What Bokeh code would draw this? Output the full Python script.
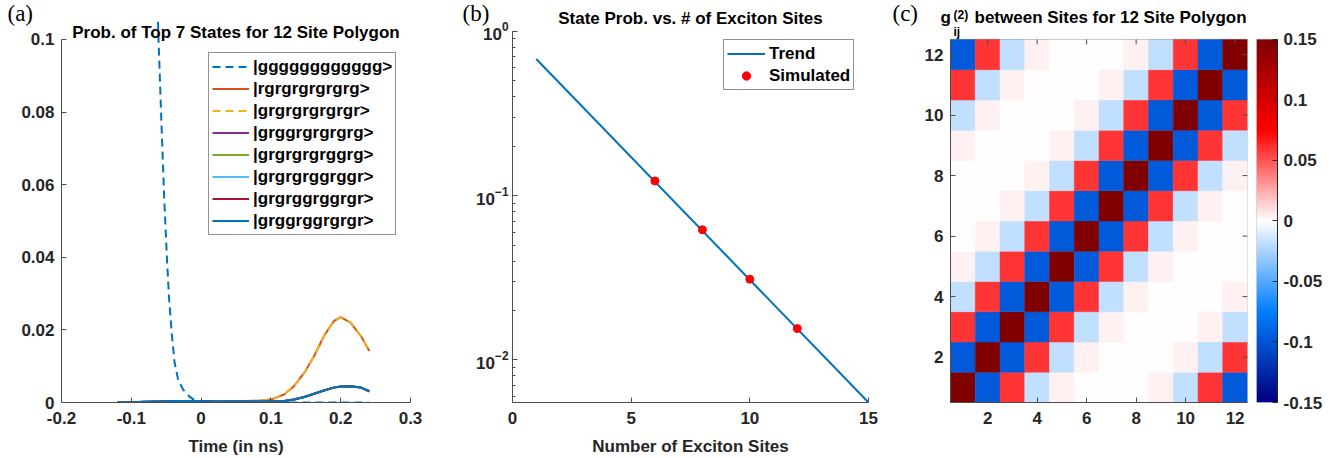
import numpy as np
from bokeh.plotting import figure
from bokeh.layouts import row
from bokeh.models import (Range1d, Legend, LegendItem, Label, LinearColorMapper, Title,
                          FixedTicker, NumeralTickFormatter, ColumnDataSource, BoxAnnotation)
from bokeh.embed import file_html
from bokeh.resources import INLINE

# ---------------- data ----------------
# (a) state probabilities vs time
t_ground = [-0.12, -0.1, -0.085, -0.075, -0.068, -0.061, -0.057, -0.053, -0.049, -0.046,
            -0.042, -0.038, -0.033, -0.026, -0.017, -0.007, 0.0, 0.05, 0.1, 0.15, 0.2, 0.24]
p_ground = [1.0, 0.62, 0.36, 0.22, 0.15, 0.1, 0.078, 0.057, 0.040, 0.029,
            0.019, 0.011, 0.0064, 0.0036, 0.0017, 0.0003, 0.0, 0.0, 0.0, 0.0, 0.0, 0.0]

t_grid = [-0.12, -0.1, -0.08, -0.06, -0.04, -0.02, 0.0, 0.02, 0.04, 0.06, 0.08, 0.1,
          0.119, 0.133, 0.148, 0.162, 0.176, 0.19, 0.2, 0.214, 0.229, 0.241]
p_rgrg = [0.0, 0.0, 0.0, 0.0001, 0.0002, 0.0003, 0.0004, 0.0004, 0.0004, 0.0004, 0.0005, 0.0008,
          0.0022, 0.0045, 0.0082, 0.0128, 0.0183, 0.0224, 0.0235, 0.022, 0.0183, 0.0142]
p_grgr = [0.0, 0.0, 0.0, 0.0001, 0.0002, 0.0003, 0.0004, 0.0004, 0.0004, 0.0004, 0.0005, 0.0008,
          0.0022, 0.0045, 0.0082, 0.0128, 0.0183, 0.0224, 0.0235, 0.022, 0.0183, 0.0142]
p_two_gap = [0.0, 0.0001, 0.0002, 0.0003, 0.0004, 0.0004, 0.0004, 0.0003, 0.0003, 0.0003, 0.0003, 0.0003,
             0.0004, 0.0008, 0.0015, 0.0024, 0.0033, 0.0041, 0.0044, 0.0045, 0.0041, 0.0031]

state_labels = ["|gggggggggggg>", "|rgrgrgrgrgrg>", "|grgrgrgrgrgr>", "|grggrgrgrgrg>",
                "|grgrgrgrggrg>", "|grgrgrggrggr>", "|grgrggrggrgr>", "|grggrggrgrgr>"]

# (b) state probability vs number of exciton sites
sites_sim = [6, 8, 10, 12]
prob_sim = [0.123, 0.062, 0.031, 0.0155]
trend_x = [1, 15]
trend_y = [0.68, 0.0055]

# (c) g2 matrix between sites (row i = site i, column j = site j)
site_idx = list(range(1, 13))
g2 = [
    [0.15, -0.097, 0.059, -0.018, 0.0045, 0.0005, 0.0, 0.0005, 0.0045, -0.018, 0.059, -0.097],
    [-0.097, 0.15, -0.097, 0.059, -0.018, 0.0045, 0.0005, 0.0, 0.0005, 0.0045, -0.018, 0.059],
    [0.059, -0.097, 0.15, -0.097, 0.059, -0.018, 0.0045, 0.0005, 0.0, 0.0005, 0.0045, -0.018],
    [-0.018, 0.059, -0.097, 0.15, -0.097, 0.059, -0.018, 0.0045, 0.0005, 0.0, 0.0005, 0.0045],
    [0.0045, -0.018, 0.059, -0.097, 0.15, -0.097, 0.059, -0.018, 0.0045, 0.0005, 0.0, 0.0005],
    [0.0005, 0.0045, -0.018, 0.059, -0.097, 0.15, -0.097, 0.059, -0.018, 0.0045, 0.0005, 0.0],
    [0.0, 0.0005, 0.0045, -0.018, 0.059, -0.097, 0.15, -0.097, 0.059, -0.018, 0.0045, 0.0005],
    [0.0005, 0.0, 0.0005, 0.0045, -0.018, 0.059, -0.097, 0.15, -0.097, 0.059, -0.018, 0.0045],
    [0.0045, 0.0005, 0.0, 0.0005, 0.0045, -0.018, 0.059, -0.097, 0.15, -0.097, 0.059, -0.018],
    [-0.018, 0.0045, 0.0005, 0.0, 0.0005, 0.0045, -0.018, 0.059, -0.097, 0.15, -0.097, 0.059],
    [0.059, -0.018, 0.0045, 0.0005, 0.0, 0.0005, 0.0045, -0.018, 0.059, -0.097, 0.15, -0.097],
    [-0.097, 0.059, -0.018, 0.0045, 0.0005, 0.0, 0.0005, 0.0045, -0.018, 0.059, -0.097, 0.15],
]
site_ticks = [2, 4, 6, 8, 10, 12]
cbar_ticks = [-0.15, -0.1, -0.05, 0, 0.05, 0.1, 0.15]

# ---------------- style / layout constants ----------------
FONT = "Liberation Sans"
SERIF = "Liberation Serif"
AX = "#4d4d4d"
TXT = "#262626"
FS = "17px"
LETTER_FS = "23px"
COLORS = ["#0072BD", "#D95319", "#EDB120", "#7E2F8E", "#77AC30", "#4DBEEE", "#A2142F", "#0072BD"]
FRAME_TOP = 18      # common frame top of all plots in the row (pixels)
FRAME_BOT = 403     # frame bottom (pixels)
BORDER_BOT = 458 - FRAME_BOT
TICK_PX = 5


def extend_top(lo, hi, data_top_px):
    """linear range end so that `hi` lands at pixel row data_top_px"""
    return lo + (hi - lo) * (FRAME_BOT - FRAME_TOP) / (FRAME_BOT - data_top_px)


def style_axes(p, minor=False):
    for ax in p.axis:
        ax.axis_line_color = AX
        ax.major_tick_line_color = AX
        ax.minor_tick_line_color = AX if minor else None
        ax.major_tick_in = TICK_PX
        ax.major_tick_out = 0
        ax.minor_tick_in = 3
        ax.minor_tick_out = 0
        ax.major_label_text_font = FONT
        ax.major_label_text_font_size = FS
        ax.major_label_text_font_style = "bold"
        ax.major_label_text_color = TXT
        ax.axis_label_text_font = FONT
        ax.axis_label_text_font_size = FS
        ax.axis_label_text_font_style = "bold"
        ax.axis_label_text_color = TXT
    p.xgrid.visible = False
    p.ygrid.visible = False


def add_title(p, text, standoff, align="center", offset=0, font=FONT, size=FS, style="bold"):
    p.add_layout(Title(text=text, align=align, offset=offset, standoff=standoff,
                       text_font=font, text_font_size=size, text_font_style=style,
                       text_color="#000000"), "above")


def legend_kw():
    return dict(padding=3, spacing=1, label_standoff=4, glyph_height=21, label_height=21,
                label_text_font=FONT, label_text_font_size=FS, label_text_font_style="bold",
                label_text_color="#000000", border_line_color=TXT, border_line_width=1,
                background_fill_alpha=1.0)


# ---------------- panel (a) ----------------
pa = figure(width=440, height=458, output_backend="svg", toolbar_location=None, title=None,
            x_range=Range1d(-0.2, 0.3), y_range=Range1d(0, extend_top(0, 0.1, 39)),
            min_border_left=61, min_border_right=30, min_border_top=FRAME_TOP,
            min_border_bottom=BORDER_BOT)
pa.outline_line_color = None
series = [(t_ground, p_ground, "dashed"), (t_grid, p_rgrg, "solid"), (t_grid, p_grgr, "dashed"),
          (t_grid, p_two_gap, "solid"), (t_grid, p_two_gap, "solid"), (t_grid, p_two_gap, "solid"),
          (t_grid, p_two_gap, "solid"), (t_grid, p_two_gap, "solid")]
items = []
for (tx, py, dash), col, lab in zip(series, COLORS, state_labels):
    r = pa.line(tx, py, line_color=col, line_width=2,
                line_dash="8 5" if dash == "dashed" else "solid")
    items.append(LegendItem(label=lab, renderers=[r]))
leg_a = Legend(items=items, location=(147, 167), glyph_width=37, **legend_kw())
pa.add_layout(leg_a)
pa.xaxis.axis_label = "Time (in ns)"
pa.xaxis.ticker = FixedTicker(ticks=[-0.2, -0.1, 0, 0.1, 0.2, 0.3])
pa.yaxis.ticker = FixedTicker(ticks=[0, 0.02, 0.04, 0.06, 0.08, 0.1])
pa.yaxis.bounds = (0, 0.1)
pa.xaxis.formatter = NumeralTickFormatter(format="0.[0]")
pa.yaxis.formatter = NumeralTickFormatter(format="0.[00]")
style_axes(pa)
pa.xaxis.major_label_standoff = 9
pa.yaxis.major_label_standoff = 7
pa.xaxis.axis_label_standoff = 10
pa.add_layout(Label(x=0.05, y=0.1, y_offset=6.7, text="Prob. of Top 7 States for 12 Site Polygon",
                    text_font=FONT, text_font_size=FS, text_font_style="bold", text_color="#000000",
                    text_align="center", text_baseline="alphabetic"))
add_title(pa, "(a)", -15, align="left", offset=-54, font=SERIF, size=LETTER_FS, style="normal")

# ---------------- panel (b) ----------------
b_top = 10 ** (np.log10(1 / 0.0055) * (FRAME_BOT - FRAME_TOP) / (FRAME_BOT - 31)) * 0.0055
pb = figure(width=450, height=458, output_backend="svg", toolbar_location=None, title=None,
            x_range=Range1d(0, 15), y_range=Range1d(0.0055, b_top), y_axis_type="log",
            min_border_left=72, min_border_right=22, min_border_top=FRAME_TOP,
            min_border_bottom=BORDER_BOT)
pb.outline_line_color = None
r_trend = pb.line(trend_x, trend_y, line_color="#0072BD", line_width=2)
r_sim = pb.scatter(sites_sim, prob_sim, size=8, fill_color="#FF0000", line_color="#FF0000")
leg_b = Legend(items=[LegendItem(label="Trend", renderers=[r_trend]),
                      LegendItem(label="Simulated", renderers=[r_sim])],
               location=(211, 312), glyph_width=38, **legend_kw())
pb.add_layout(leg_b)
pb.xaxis.axis_label = "Number of Exciton Sites"
pb.xaxis.ticker = FixedTicker(ticks=[0, 5, 10, 15])
pb.yaxis.bounds = (0.0055, 1)
style_axes(pb, minor=True)
pb.xaxis.minor_tick_line_color = None
pb.xaxis.major_label_standoff = 9
pb.yaxis.major_label_standoff = 4
pb.xaxis.axis_label_standoff = 10
add_title(pb, "State Prob. vs. # of Exciton Sites", -19.2)
add_title(pb, "(b)", -18.6, align="left", offset=-50, font=SERIF, size=LETTER_FS, style="normal")

# ---------------- panel (c) ----------------
anchors_v = [-0.15, -0.075, 0.0, 0.075, 0.15]
anchors_rgb = np.array([[0, 0, 128], [0, 128, 255], [255, 255, 255], [255, 0, 0], [128, 0, 0]])
levels = np.linspace(-0.15, 0.15, 256)
palette = []
for lv in levels:
    rgb = [int(round(np.interp(lv, anchors_v, anchors_rgb[:, k]))) for k in range(3)]
    palette.append("#%02x%02x%02x" % tuple(rgb))
mapper = LinearColorMapper(palette=palette, low=-0.15, high=0.15)

xs, ys, vs = [], [], []
for i, rowv in zip(site_idx, g2):
    for j, v in zip(site_idx, rowv):
        xs.append(j)
        ys.append(i)
        vs.append(v)
src = ColumnDataSource(dict(x=xs, y=ys, v=vs))

c_lo, c_hi = site_idx[0] - 0.5, site_idx[-1] + 0.5
pc = figure(width=366, height=458, output_backend="svg", toolbar_location=None, title=None,
            x_range=Range1d(c_lo, c_hi), y_range=Range1d(c_lo, extend_top(c_lo, c_hi, 39)),
            min_border_left=60, min_border_right=9, min_border_top=FRAME_TOP,
            min_border_bottom=BORDER_BOT)
pc.rect(x="x", y="y", width=1, height=1, source=src,
        fill_color={"field": "v", "transform": mapper},
        line_color={"field": "v", "transform": mapper}, line_width=0.5)
pc.outline_line_color = None
pc.add_layout(BoxAnnotation(left=c_lo, right=c_hi, bottom=c_lo, top=c_hi, fill_alpha=0,
                            line_color=AX, line_width=1))
# inward tick marks on the top and right edges of the box
tick_dy = (c_hi - c_lo) / (FRAME_BOT - 39) * TICK_PX
tick_dx = (c_hi - c_lo) / 297 * TICK_PX
n_t = len(site_ticks)
pc.segment(x0=site_ticks, y0=[c_hi] * n_t, x1=site_ticks, y1=[c_hi - tick_dy] * n_t,
           line_color=AX, line_width=1)
pc.segment(x0=[c_hi] * n_t, y0=site_ticks, x1=[c_hi - tick_dx] * n_t, y1=site_ticks,
           line_color=AX, line_width=1)
pc.xaxis.ticker = FixedTicker(ticks=site_ticks)
pc.yaxis.ticker = FixedTicker(ticks=site_ticks)
pc.yaxis.bounds = (c_lo, c_hi)
style_axes(pc)
pc.xaxis.major_label_standoff = 9
pc.yaxis.major_label_standoff = 7

# title g_ij^(2) between Sites for 12 Site Polygon
add_title(pc, "g\u00a0\u00a0\u00a0\u00a0 between Sites for 12 Site Polygon", -17.2,
          align="left", offset=-10)
add_title(pc, "(2)", -14.6, align="left", offset=3, size="12px")
add_title(pc, "(c)", -24.2, align="left", offset=-58, font=SERIF, size=LETTER_FS, style="normal")
pc.add_layout(Label(x=c_lo, y=c_hi, x_offset=3, y_offset=7, text="ij",
                    text_font=FONT, text_font_size="12px", text_font_style="bold",
                    text_color="#000000", text_baseline="alphabetic"))

# colour bar as its own narrow plot
pcb = figure(width=83, height=458, output_backend="svg", toolbar_location=None, title=None,
             x_range=Range1d(0, 1), y_range=Range1d(-0.15, extend_top(-0.15, 0.15, 39)),
             y_axis_location="right", x_axis_location=None,
             min_border_left=0, min_border_right=62, min_border_top=FRAME_TOP,
             min_border_bottom=BORDER_BOT)
pcb.image(image=[levels.reshape(-1, 1)], x=0, y=-0.15, dw=1, dh=0.3, color_mapper=mapper)
pcb.outline_line_color = None
pcb.add_layout(BoxAnnotation(left=0, right=1, bottom=-0.15, top=0.15, fill_alpha=0,
                             line_color=TXT, line_width=1))
pcb.yaxis.ticker = FixedTicker(ticks=cbar_ticks)
pcb.yaxis.formatter = NumeralTickFormatter(format="0.[00]")
pcb.yaxis.bounds = (-0.15, 0.15)
style_axes(pcb)
pcb.yaxis.major_label_standoff = 6
pcb.yaxis.axis_line_color = TXT
pcb.yaxis.major_tick_line_color = TXT

layout = row(pa, pb, pc, pcb, spacing=0)
open("out.html", "w").write(file_html(layout, INLINE))
